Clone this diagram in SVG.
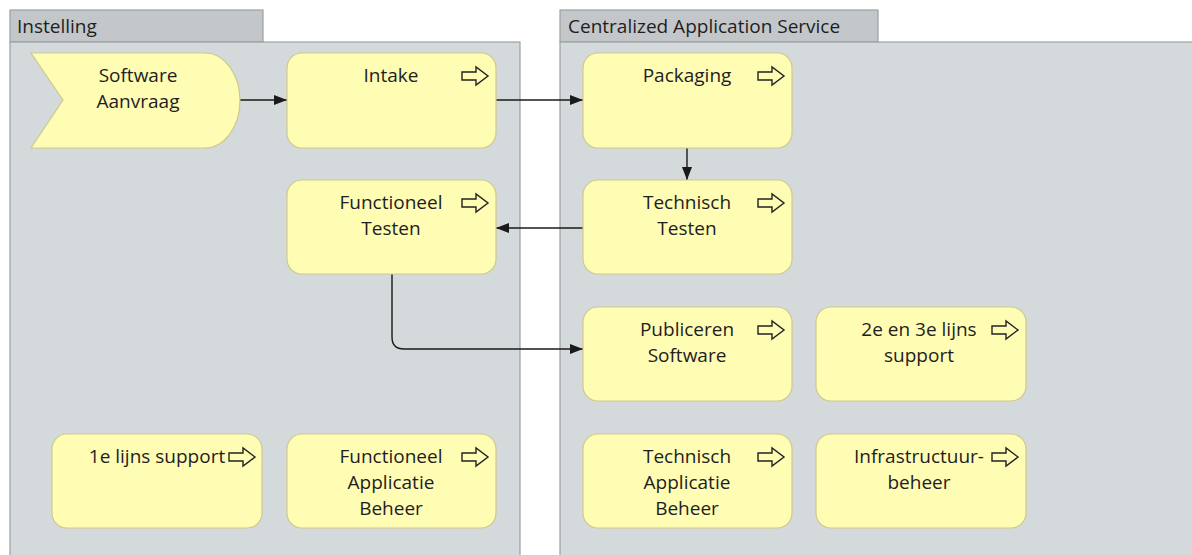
<svg xmlns="http://www.w3.org/2000/svg" width="1192" height="555" viewBox="0 0 1192 555">
<style>
.pool{fill:#d4d9db;stroke:#9c9fa1;stroke-width:1.2}
.tab{fill:#c3c7c9;stroke:#9c9fa1;stroke-width:1.2}
.pt{font-family:"Open Sans","Noto Sans",sans-serif;font-size:19px;fill:#1e1e1e}
.n{fill:#fffcb4;stroke:#cfca8c;stroke-width:1.2}
.t{font-family:"Open Sans","Noto Sans",sans-serif;font-size:19px;fill:#1e1e1e;text-anchor:middle}
.ic{fill:#fffcb4;stroke:#222;stroke-width:1.4;stroke-linejoin:miter}
.c{fill:none;stroke:#1a1a1a;stroke-width:1.4}
</style>
<defs>
<marker id="ah" markerWidth="13" markerHeight="10" refX="13" refY="5" orient="auto" markerUnits="userSpaceOnUse">
<path d="M0,0 L13,5 L0,10 Z" fill="#1a1a1a"/>
</marker>
<path id="pa" d="M0,-4 H14 V-9 L26,0 L14,9 V4 H0 Z"/>
</defs>
<rect width="1192" height="555" fill="#ffffff"/>
<g id="pool-instelling">
<rect class="tab" x="10" y="10" width="253" height="32"/>
<rect class="pool" x="10" y="42" width="510" height="520"/>
<text class="pt" x="17" y="33">Instelling</text>
</g>
<g id="pool-cas">
<rect class="tab" x="560" y="10" width="318" height="32"/>
<rect class="pool" x="560" y="42" width="640" height="520"/>
<text class="pt" x="568" y="33">Centralized Application Service</text>
</g>
<g id="connectors">
<path class="c" d="M240,100 H287" marker-end="url(#ah)"/>
<path class="c" d="M496,100 H583" marker-end="url(#ah)"/>
<path class="c" d="M687,148 V180" marker-end="url(#ah)"/>
<path class="c" d="M583,228 H496" marker-end="url(#ah)"/>
<path class="c" d="M392,274 V337 Q392,349 404,349 H583" marker-end="url(#ah)"/>
</g>
<g id="software-aanvraag">
<path class="n" d="M31,53 H205 A35,47.5 0 0 1 205,148 H31 L63,100 Z"/>
<text class="t" x="138" y="82">Software</text>
<text class="t" x="138" y="108">Aanvraag</text>
</g>
<g id="intake">
<rect class="n" x="287" y="53" width="209" height="95" rx="15"/>
<text class="t" x="391" y="82">Intake</text>
<use href="#pa" class="ic" x="462" y="76"/>
</g>
<g id="packaging">
<rect class="n" x="583" y="53" width="209" height="95" rx="15"/>
<text class="t" x="687" y="82">Packaging</text>
<use href="#pa" class="ic" x="758" y="76"/>
</g>
<g id="functioneel-testen">
<rect class="n" x="287" y="180" width="209" height="94" rx="15"/>
<text class="t" x="391" y="209">Functioneel</text>
<text class="t" x="391" y="235">Testen</text>
<use href="#pa" class="ic" x="462" y="203"/>
</g>
<g id="technisch-testen">
<rect class="n" x="583" y="180" width="209" height="94" rx="15"/>
<text class="t" x="687" y="209">Technisch</text>
<text class="t" x="687" y="235">Testen</text>
<use href="#pa" class="ic" x="758" y="203"/>
</g>
<g id="publiceren-software">
<rect class="n" x="583" y="307" width="209" height="94" rx="15"/>
<text class="t" x="687" y="336">Publiceren</text>
<text class="t" x="687" y="362">Software</text>
<use href="#pa" class="ic" x="758" y="330"/>
</g>
<g id="lijns-support-2-3">
<rect class="n" x="816" y="307" width="210" height="94" rx="15"/>
<text class="t" x="919" y="336">2e en 3e lijns</text>
<text class="t" x="919" y="362">support</text>
<use href="#pa" class="ic" x="992" y="330"/>
</g>
<g id="lijns-support-1">
<rect class="n" x="52" y="434" width="210" height="94" rx="15"/>
<text class="t" x="157" y="463">1e lijns support</text>
<use href="#pa" class="ic" x="229" y="457"/>
</g>
<g id="functioneel-applicatie-beheer">
<rect class="n" x="287" y="434" width="209" height="94" rx="15"/>
<text class="t" x="391" y="463">Functioneel</text>
<text class="t" x="391" y="489">Applicatie</text>
<text class="t" x="391" y="515">Beheer</text>
<use href="#pa" class="ic" x="462" y="457"/>
</g>
<g id="technisch-applicatie-beheer">
<rect class="n" x="583" y="434" width="209" height="94" rx="15"/>
<text class="t" x="687" y="463">Technisch</text>
<text class="t" x="687" y="489">Applicatie</text>
<text class="t" x="687" y="515">Beheer</text>
<use href="#pa" class="ic" x="758" y="457"/>
</g>
<g id="infrastructuurbeheer">
<rect class="n" x="816" y="434" width="210" height="94" rx="15"/>
<text class="t" x="919" y="463">Infrastructuur-</text>
<text class="t" x="919" y="489">beheer</text>
<use href="#pa" class="ic" x="992" y="457"/>
</g>
</svg>
